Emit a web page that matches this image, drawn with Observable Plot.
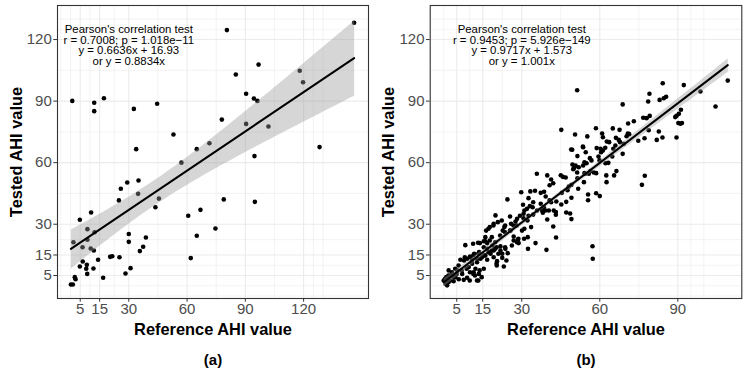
<!DOCTYPE html>
<html>
<head>
<meta charset="utf-8">
<script src="https://cdn.jsdelivr.net/npm/d3@7"></script>
<script src="https://cdn.jsdelivr.net/npm/@observablehq/plot@0.6"></script>
<style>
  html, body { margin: 0; padding: 0; background: #fff; }
  #row { display: flex; flex-direction: row; width: 747px; height: 374px; }
  #row svg { display: block; }
</style>
</head>
<body>
<div id="row"></div>
<script>
// ---------- Panel (a) data: reference vs tested AHI ----------
const refA = [146.0,80.5,96.8,85.1,118.0,119.7,90.4,94.4,96.2,0.9,12.2,12.2,17.2,32.6,44.6,77.9,90.4,101.9,53.0,71.5,65.0,33.8,128.2,94.7,57.1,29.2,35.0,25.9,34.8,24.9,45.5,43.7,10.6,4.8,60.6,66.9,74.6,8.7,1.5,8.7,12.4,6.2,10.4,12.0,30.0,30.0,38.8,37.4,35.7,61.9,14.2,20.4,21.5,25.2,6.3,4.8,8.4,8.1,11.8,8.6,30.9,28.3,16.8,2.2,2.6,0.2,1.2,65.0,78.9,94.9];
const testA = [128.2,124.6,107.8,103.0,104.8,99.2,93.6,91.3,90.1,90.1,89.2,85.1,91.4,86.2,88.7,81.0,78.9,77.6,73.7,69.5,66.6,66.6,67.6,63.2,60.0,50.3,51.3,47.3,44.8,41.6,42.5,38.3,35.7,32.2,34.1,37.0,27.9,27.6,21.2,22.4,26.1,18.8,18.2,17.2,25.2,21.4,23.5,19.0,16.9,13.5,12.7,14.1,14.4,13.9,11.8,9.4,10.2,8.3,8.4,5.8,8.6,6.0,3.9,4.2,3.2,0.6,0.6,24.4,42.1,40.9];

// ---------- Panel (b) data ----------
const refB = [51.3,84.2,92.3,109.2,98.7,104.5,79.1,78.6,83.0,84.6,85.5,68.8,76.7,78.0,79.2,70.9,73.1,91.2,90.4,89.5,89.0,90.2,91.0,91.6,89.5,84.1,81.9,82.7,78.8,77.2,74.8,70.8,71.3,70.3,67.6,65.0,60.9,61.2,58.5,50.5,55.2,62.7,63.6,66.2,67.3,67.8,69.2,68.8,65.2,62.1,61.2,60.5,58.8,53.6,49.0,51.4,54.6,56.2,56.8,54.1,53.6,50.7,49.5,50.0,59.5,59.9,62.2,63.3,64.8,57.7,58.6,56.4,62.5,65.5,66.4,62.6,54.4,53.9,51.4,51.7,49.1,58.6,60.0,55.5,77.3,76.2,
  55.5,47.6,45.4,45.2,47.1,47.1,48.6,49.1,57.2,57.3,
  45.2,49.4,53.5,50.4,51.9,49.8,51.3,54.9,54.1,55.8,45.0,45.8,46.9,41.3,39.8,35.8,48.1,49.1,40.7,42.1,38.6,39.2,37.3,33.3,35.1,29.8,24.5,32.6,34.4,30.5,33.1,34.2,37.3,38.5,40.7,40.4,43.3,43.1,43.1,42.3,39.8,38.1,37.8,35.9,34.4,31.0,30.7,32.6,30.7,29.3,28.2,27.6,32.2,33.6,31.0,30.1,42.1,43.2,19.9,25.5,25.9,23.3,22.7,25.7,28.0,26.9,28.5,16.3,17.7,19.2,30.9,32.3,66.0,60.3,
  32.0,39.1,41.3,
  8.3,11.3,13.9,15.4,16.7,17.7,18.7,20.3,21.8,23.7,26.9,28.8,22.5,24.6,22.5,32.4,35.3,39.5,20.3,23.1,24.1,6.4,8.1,10.1,11.7,13.6,15.5,14.1,12.8,10.9,9.6,12.2,13.8,15.4,11.5,13.5,12.8,10.0,9.0,7.1,5.2,3.2,1.9,2.6,4.5,1.0,0.0,0.7,1.9,3.8,5.8,7.7,1.3,16.7,18.0,19.2,20.5,21.8,19.2,16.7,15.4,
  13.2,16.0,18.5,16.0,17.2,19.1,20.8,22.3,23.6,13.3,11.4,10.3,9.0,7.8,10.9,12.8,14.7,16.0,17.2,18.5,19.8,5.7,4.4,1.8,0.5,1.2,2.5,3.7,5.0,6.9,8.8,10.1,11.4,12.0,13.3,14.6,20.4,21.0,23.6,26.2,28.2,28.7,19.8,21.7,23.6,25.5,26.8];
const testB = [95.3,98.7,97.8,100.0,94.7,87.4,93.6,89.8,90.6,91.4,92.1,88.4,81.9,81.7,82.8,79.1,80.2,85.8,83.8,82.8,82.2,79.3,79.0,79.3,72.3,72.3,71.1,75.2,75.8,71.9,70.7,74.2,73.9,72.9,76.0,76.7,74.2,72.4,76.8,73.7,72.8,70.3,70.0,72.1,71.1,70.0,69.2,64.3,66.8,67.3,65.9,65.1,67.1,67.5,66.4,63.2,65.1,62.2,61.1,60.2,58.6,58.6,59.1,57.3,63.0,61.1,59.7,59.9,63.0,55.2,54.9,55.9,53.8,53.8,55.9,50.5,54.6,50.5,52.4,47.3,49.2,45.1,43.7,44.5,53.6,49.2,
  41.7,46.6,45.3,39.6,40.9,35.7,35.2,32.5,19.3,13.2,
  76.0,66.3,67.9,58.1,57.8,56.8,55.2,59.7,54.9,54.6,53.9,53.1,52.8,51.8,53.8,54.6,48.4,42.9,49.0,50.0,45.8,43.5,45.3,46.0,46.3,45.6,42.1,42.7,40.7,39.5,38.8,38.3,40.0,38.3,41.6,36.7,41.1,35.9,34.6,36.7,32.3,35.6,36.7,36.7,34.7,36.7,35.1,34.1,32.9,34.1,32.7,31.3,31.8,28.6,27.8,26.9,28.9,23.5,34.3,33.8,30.2,28.6,26.9,26.9,29.4,24.0,22.4,26.9,28.6,30.2,22.9,23.7,68.4,66.8,
  37.5,36.7,40.7,
  19.8,20.5,20.8,21.7,20.8,22.1,19.6,18.8,19.2,18.0,22.1,20.8,15.6,15.9,13.6,18.0,20.8,17.5,10.7,9.4,12.3,12.7,13.9,14.3,15.6,16.4,14.8,13.2,11.5,10.7,9.1,8.3,7.5,8.3,6.6,5.8,2.6,2.6,3.9,5.8,7.5,6.6,7.5,5.0,4.2,4.2,2.6,1.0,1.8,2.2,3.2,2.9,0.2,12.7,15.6,13.9,12.0,17.2,17.2,18.0,18.8,
  21.0,21.7,23.7,23.7,27.8,29.4,31.0,31.8,29.4,15.6,14.8,13.9,13.2,12.3,12.3,13.2,13.9,14.8,16.4,17.2,18.0,9.9,8.3,5.0,3.4,1.7,2.6,4.2,5.8,7.5,8.3,6.6,5.8,5.0,2.6,4.2,9.9,15.6,18.8,19.6,21.2,22.9,21.2,24.5,26.1,26.9,29.4];

// ---------- Ticks and gridlines ----------
const majorY = [5, 15, 30, 60, 90, 120];
const minorY = [-5, 0, 10, 22.5, 45, 75, 105, 125, 130];
const majorXA = [5, 15, 30, 60, 90, 120];
const minorXA = [-5, 0, 10, 22.5, 45, 75, 105, 125, 130];
const majorXB = [5, 15, 30, 60, 90];
const minorXB = [-5, 0, 10, 22.5, 45, 75, 95, 100];

// ---------- Texts ----------
const annotA = ["Pearson's correlation test", "r = 0.7008; p = 1.018e\u221211", "y = 0.6636x + 16.93", "or y = 0.8834x"];
const annotB = ["Pearson's correlation test", "r = 0.9453; p = 5.926e\u2212149", "y = 0.9717x + 1.573", "or y = 1.001x"];
const xTitle = "Reference AHI value";
const yTitle = "Tested AHI value";
const captions = ["(a)", "(b)"];

const FONT = "'Liberation Sans', Arial, Helvetica, sans-serif";
const Y_DOMAIN = [-6.2, 136.6];

function panel({ref, test, xDomain, majorX, minorX, annot, caption, width, marginLeft, marginRight}) {
  const data = ref.map((r, i) => ({ref: r, test: test[i]}));
  return Plot.plot({
    width, height: 374,
    marginTop: 5, marginBottom: 76, marginLeft, marginRight,
    style: {fontFamily: FONT, background: "white", overflow: "visible"},
    x: {domain: xDomain, axis: null},
    y: {domain: Y_DOMAIN, axis: null},
    marks: [
      Plot.gridX(minorX, {stroke: "#ebebeb", strokeOpacity: 1, strokeWidth: 0.6}),
      Plot.gridY(minorY, {stroke: "#ebebeb", strokeOpacity: 1, strokeWidth: 0.6}),
      Plot.gridX(majorX, {stroke: "#ebebeb", strokeOpacity: 1, strokeWidth: 1.1}),
      Plot.gridY(majorY, {stroke: "#ebebeb", strokeOpacity: 1, strokeWidth: 1.1}),
      Plot.dot(data, {x: "ref", y: "test", r: 2.3, fill: "black", stroke: "none"}),
      Plot.linearRegressionY(data, {x: "ref", y: "test", stroke: "black", strokeWidth: 2, fill: "#999999", fillOpacity: 0.4, ci: 0.95}),
      Plot.text([annot.join("\n")], {x: 30, y: 117, text: d => d, fontSize: 11.4, lineHeight: 0.93, fill: "black"}),
      Plot.frame({stroke: "#333333", strokeWidth: 1.1}),
      Plot.axisX(majorX, {tickSize: 3.7, tickPadding: 1, fontSize: 15, fill: "#4d4d4d", stroke: "#333333", label: null}),
      Plot.axisY(majorY, {tickSize: 3.7, tickPadding: 2, fontSize: 15, fill: "#4d4d4d", stroke: "#333333", label: null}),
      Plot.text([xTitle], {frameAnchor: "bottom", lineAnchor: "middle", textAnchor: "middle", dy: 31, fontWeight: "bold", fontSize: 16.4, fill: "black"}),
      Plot.text([yTitle], {frameAnchor: "left", lineAnchor: "middle", textAnchor: "middle", dx: -41, rotate: -90, fontWeight: "bold", fontSize: 16.4, fill: "black"}),
      Plot.text([caption], {frameAnchor: "bottom", lineAnchor: "middle", textAnchor: "middle", dy: 62, fontWeight: "bold", fontSize: 15, fill: "black"})
    ]
  });
}

const row = document.getElementById("row");
row.append(panel({ref: refA, test: testA, xDomain: [-6.7, 153.4], majorX: majorXA, minorX: minorXA,
  annot: annotA, caption: captions[0], width: 373, marginLeft: 57, marginRight: 5}));
row.append(panel({ref: refB, test: testB, xDomain: [-5.2, 114.6], majorX: majorXB, minorX: minorXB,
  annot: annotB, caption: captions[1], width: 374, marginLeft: 56.7, marginRight: 5.7}));
</script>
</body>
</html>
